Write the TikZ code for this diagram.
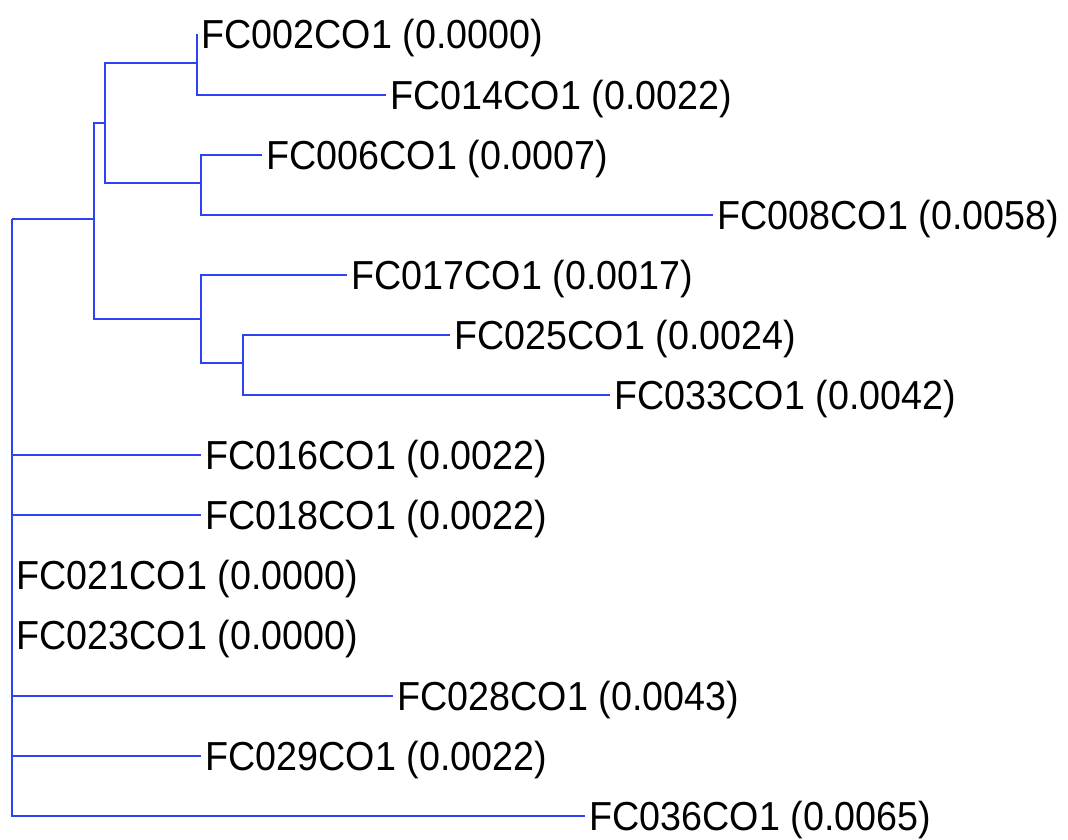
\documentclass[tikz,border=0pt]{standalone}
\usepackage{fontspec}
\setmainfont[FakeStretch=0.93]{Liberation Sans}
\definecolor{treeblue}{RGB}{45,65,245}
\begin{document}
\begin{tikzpicture}[x=1pt,y=-1pt,
  branch/.style={draw=treeblue,line width=1.2pt},
  leaf/.style={anchor=west,inner xsep=4.5pt,inner ysep=0pt,text height=29pt,text depth=0pt,
    font=\fontsize{40.5}{48}\selectfont,text=black}]
\useasboundingbox (0,0) rectangle (1068,840);
% internal nodes
\coordinate (root) at (12,219);
\coordinate (A) at (94,219);
\coordinate (B) at (105,123);
\coordinate (C) at (197,63);
\coordinate (D) at (201,183);
\coordinate (E) at (201,319);
\coordinate (F) at (243,363);
% leaves
\node[leaf] (l002) at (197,34) {FC002CO1 (0.0000)};
\node[leaf] (l014) at (386,95) {FC014CO1 (0.0022)};
\node[leaf] (l006) at (262,155) {FC006CO1 (0.0007)};
\node[leaf] (l008) at (713,215) {FC008CO1 (0.0058)};
\node[leaf] (l017) at (347,275) {FC017CO1 (0.0017)};
\node[leaf] (l025) at (450,335) {FC025CO1 (0.0024)};
\node[leaf] (l033) at (610,395) {FC033CO1 (0.0042)};
\node[leaf] (l016) at (201,455) {FC016CO1 (0.0022)};
\node[leaf] (l018) at (201,515) {FC018CO1 (0.0022)};
\node[leaf] (l021) at (12,575) {FC021CO1 (0.0000)};
\node[leaf] (l023) at (12,635) {FC023CO1 (0.0000)};
\node[leaf] (l028) at (393,696) {FC028CO1 (0.0043)};
\node[leaf] (l029) at (201,756) {FC029CO1 (0.0022)};
\node[leaf] (l036) at (585,816) {FC036CO1 (0.0065)};
% branches
\draw[branch] (root) |- (A);
\draw[branch] (root) |- (l016.west);
\draw[branch] (root) |- (l018.west);
\draw[branch] (root) |- (l021.west);
\draw[branch] (root) |- (l023.west);
\draw[branch] (root) |- (l028.west);
\draw[branch] (root) |- (l029.west);
\draw[branch] (root) |- (l036.west);
\draw[branch] (A) |- (B);
\draw[branch] (A) |- (E);
\draw[branch] (B) |- (C);
\draw[branch] (B) |- (D);
\draw[branch] (C) |- (l002.west);
\draw[branch] (C) |- (l014.west);
\draw[branch] (D) |- (l006.west);
\draw[branch] (D) |- (l008.west);
\draw[branch] (E) |- (l017.west);
\draw[branch] (E) |- (F);
\draw[branch] (F) |- (l025.west);
\draw[branch] (F) |- (l033.west);
\end{tikzpicture}
\end{document}
